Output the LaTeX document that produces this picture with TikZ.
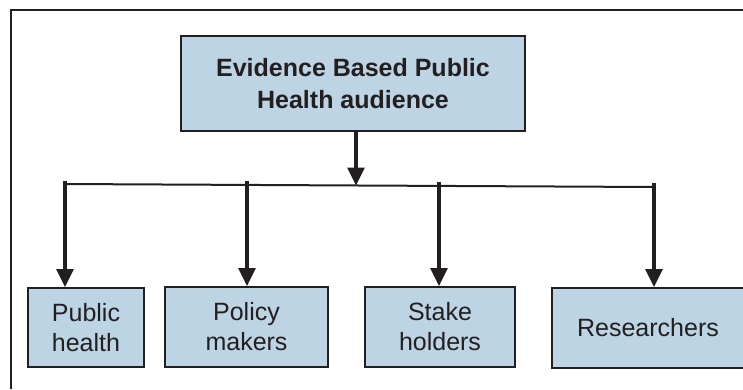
\documentclass[tikz,border=0pt]{standalone}
\usepackage{fontspec}
\setmainfont{Liberation Sans}
\usetikzlibrary{arrows.meta}
\definecolor{boxfill}{RGB}{188,212,227}
\definecolor{ink}{RGB}{35,31,32}
\begin{document}
\begin{tikzpicture}[x=1pt,y=-1pt,
  box/.style={draw=ink,line width=2pt,fill=boxfill,align=center,inner sep=0pt,
    font=\fontsize{25}{30}\selectfont,text=ink},
  arr/.style={draw=ink,line width=3.2pt,-{Triangle[length=18pt,width=17pt]}},
  bar/.style={draw=ink,line width=2pt}]
\useasboundingbox (0,0) rectangle (743,389);
\draw[bar] (11,389) -- (11,10) -- (743,10);
\node[box,minimum width=344pt,minimum height=95pt,font=\bfseries\fontsize{25}{32}\selectfont]
  (top) at (353,83.5) {Evidence Based Public\\Health audience};
\node[box,minimum width=116pt,minimum height=79pt] (b1) at (86,327.5) {Public\\health};
\node[box,minimum width=163pt,minimum height=80pt] (b2) at (246.5,327) {Policy\\makers};
\node[box,minimum width=150pt,minimum height=80pt] (b3) at (440,327) {Stake\\holders};
\node[box,minimum width=192pt,minimum height=80pt] (b4) at (648,328) {Researchers};
\coordinate (hl) at (65,184);
\coordinate (hr) at (654,187);
\coordinate (j) at (356,185.5);
\coordinate (d1) at (65,180.5);
\coordinate (d2) at (247,181);
\coordinate (d3) at (439,182);
\coordinate (d4) at (654,183);
\draw[bar] (hl) -- (hr);
\draw[arr] (top.south -| j) -- (j);
\draw[arr] (d1) -- (d1 |- b1.north);
\draw[arr] (d2) -- (d2 |- b2.north);
\draw[arr] (d3) -- (d3 |- b3.north);
\draw[arr] (d4) -- (d4 |- b4.north);
\end{tikzpicture}
\end{document}
